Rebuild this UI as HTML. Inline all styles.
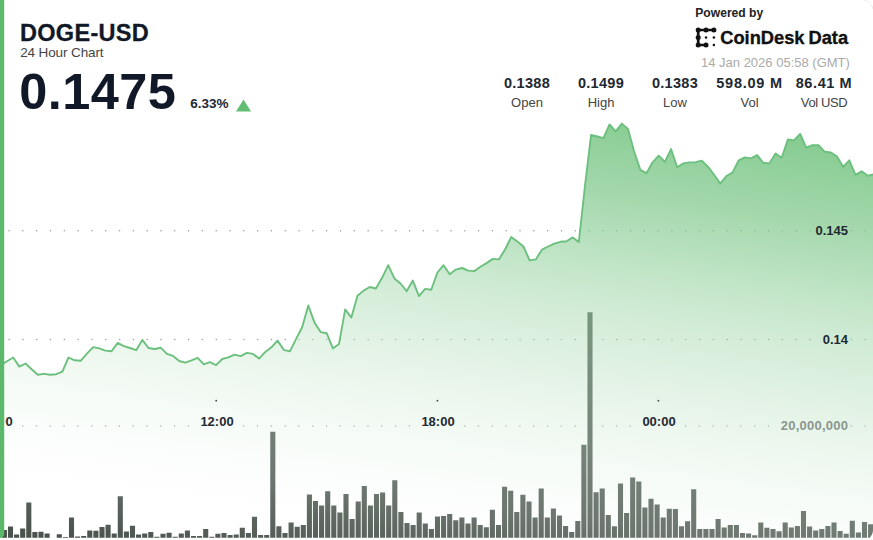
<!DOCTYPE html>
<html><head><meta charset="utf-8"><title>DOGE-USD 24 Hour Chart</title>
<style>
html,body{margin:0;padding:0;background:#fff;}
body{width:873px;height:540px;overflow:hidden;position:relative;font-family:"Liberation Sans",sans-serif;}
#card{position:absolute;left:0;top:0;width:873px;height:540px;overflow:hidden;border-radius:0 9px 9px 0;background:#fff;}
svg{position:absolute;left:0;top:0;}
.t{position:absolute;white-space:nowrap;line-height:1;}
#sym{left:20px;top:21.9px;font-size:23.5px;font-weight:bold;color:#111827;letter-spacing:0.3px;-webkit-text-stroke:0.3px #111827;}
#sub{left:20.2px;top:45.5px;font-size:13.5px;color:#444;letter-spacing:-0.12px;}
#px{left:19.3px;top:66.5px;font-size:50.5px;font-weight:bold;color:#111827;letter-spacing:0.4px;}
#chg{left:190.3px;top:96.8px;font-size:13.5px;font-weight:bold;color:#222831;}
#pow{left:695.3px;top:7.1px;font-size:12.1px;font-weight:bold;color:#222;letter-spacing:0;}
#cd{left:720.2px;top:28.7px;font-size:18.3px;font-weight:bold;color:#111;letter-spacing:0;word-spacing:-1.1px;-webkit-text-stroke:0.35px #111;}
#dt{left:701px;top:56px;font-size:13px;color:#aaa;}
.st{position:absolute;top:76px;width:100px;margin-left:-50px;text-align:center;white-space:nowrap;line-height:1;}
.st b{display:block;font-size:14.5px;color:#222831;letter-spacing:0.3px;}
.st span{display:block;font-size:13px;color:#444;margin-top:5.5px;}
.ax{position:absolute;font-size:13px;font-weight:bold;color:#1f2a33;line-height:1;white-space:nowrap;}
</style></head><body><div id="card">
<svg width="873" height="540" viewBox="0 0 873 540">
<defs>
<linearGradient id="g" gradientUnits="userSpaceOnUse" x1="873" y1="140" x2="801.6" y2="650.0">
<stop offset="0.0" stop-color="#64bc72" stop-opacity="0.8"/>
<stop offset="0.0865" stop-color="#6ec17b" stop-opacity="0.74"/>
<stop offset="0.1731" stop-color="#79c585" stop-opacity="0.68"/>
<stop offset="0.2635" stop-color="#89cd94" stop-opacity="0.61"/>
<stop offset="0.3827" stop-color="#a1d7aa" stop-opacity="0.52"/>
<stop offset="0.4942" stop-color="#b5dfbc" stop-opacity="0.44"/>
<stop offset="0.6096" stop-color="#cbe9d0" stop-opacity="0.36"/>
<stop offset="0.6923" stop-color="#dcf0df" stop-opacity="0.3"/>
<stop offset="0.8077" stop-color="#f0f9f2" stop-opacity="0.22"/>
<stop offset="0.8846" stop-color="#f5fbf6" stop-opacity="0.12"/>
<stop offset="0.9615" stop-color="#ffffff" stop-opacity="0.03"/>
<stop offset="1.0" stop-color="#ffffff" stop-opacity="0"/>

</linearGradient>
<clipPath id="cp"><rect x="-20" y="-20" width="893" height="560" rx="9" ry="9"/></clipPath>
</defs>
<g clip-path="url(#cp)">
<g fill="#949c96"><circle cx="9.06" cy="230.8" r="0.75"/><circle cx="22.87" cy="230.8" r="0.75"/><circle cx="36.68" cy="230.8" r="0.75"/><circle cx="50.49" cy="230.8" r="0.75"/><circle cx="64.3" cy="230.8" r="0.75"/><circle cx="78.11" cy="230.8" r="0.75"/><circle cx="91.92" cy="230.8" r="0.75"/><circle cx="105.73" cy="230.8" r="0.75"/><circle cx="119.54" cy="230.8" r="0.75"/><circle cx="133.35" cy="230.8" r="0.75"/><circle cx="147.16" cy="230.8" r="0.75"/><circle cx="160.97" cy="230.8" r="0.75"/><circle cx="174.78" cy="230.8" r="0.75"/><circle cx="188.59" cy="230.8" r="0.75"/><circle cx="202.4" cy="230.8" r="0.75"/><circle cx="216.21" cy="230.8" r="0.75"/><circle cx="230.02" cy="230.8" r="0.75"/><circle cx="243.83" cy="230.8" r="0.75"/><circle cx="257.64" cy="230.8" r="0.75"/><circle cx="271.45" cy="230.8" r="0.75"/><circle cx="285.26" cy="230.8" r="0.75"/><circle cx="299.07" cy="230.8" r="0.75"/><circle cx="312.88" cy="230.8" r="0.75"/><circle cx="326.69" cy="230.8" r="0.75"/><circle cx="340.5" cy="230.8" r="0.75"/><circle cx="354.31" cy="230.8" r="0.75"/><circle cx="368.12" cy="230.8" r="0.75"/><circle cx="381.93" cy="230.8" r="0.75"/><circle cx="395.74" cy="230.8" r="0.75"/><circle cx="409.55" cy="230.8" r="0.75"/><circle cx="423.36" cy="230.8" r="0.75"/><circle cx="437.17" cy="230.8" r="0.75"/><circle cx="450.98" cy="230.8" r="0.75"/><circle cx="464.79" cy="230.8" r="0.75"/><circle cx="478.6" cy="230.8" r="0.75"/><circle cx="492.41" cy="230.8" r="0.75"/><circle cx="506.22" cy="230.8" r="0.75"/><circle cx="520.03" cy="230.8" r="0.75"/><circle cx="533.84" cy="230.8" r="0.75"/><circle cx="547.65" cy="230.8" r="0.75"/><circle cx="561.46" cy="230.8" r="0.75"/><circle cx="575.27" cy="230.8" r="0.75"/><circle cx="589.08" cy="230.8" r="0.75"/><circle cx="602.89" cy="230.8" r="0.75"/><circle cx="616.7" cy="230.8" r="0.75"/><circle cx="630.51" cy="230.8" r="0.75"/><circle cx="644.32" cy="230.8" r="0.75"/><circle cx="658.13" cy="230.8" r="0.75"/><circle cx="671.94" cy="230.8" r="0.75"/><circle cx="685.75" cy="230.8" r="0.75"/><circle cx="699.56" cy="230.8" r="0.75"/><circle cx="713.37" cy="230.8" r="0.75"/><circle cx="727.18" cy="230.8" r="0.75"/><circle cx="740.99" cy="230.8" r="0.75"/><circle cx="754.8" cy="230.8" r="0.75"/><circle cx="768.61" cy="230.8" r="0.75"/><circle cx="782.42" cy="230.8" r="0.75"/><circle cx="796.23" cy="230.8" r="0.75"/><circle cx="810.04" cy="230.8" r="0.75"/><circle cx="851.47" cy="230.8" r="0.75"/><circle cx="865.28" cy="230.8" r="0.75"/><circle cx="9.1" cy="339.4" r="0.75"/><circle cx="22.91" cy="339.4" r="0.75"/><circle cx="36.72" cy="339.4" r="0.75"/><circle cx="50.53" cy="339.4" r="0.75"/><circle cx="64.34" cy="339.4" r="0.75"/><circle cx="78.15" cy="339.4" r="0.75"/><circle cx="91.96" cy="339.4" r="0.75"/><circle cx="105.77" cy="339.4" r="0.75"/><circle cx="119.58" cy="339.4" r="0.75"/><circle cx="133.39" cy="339.4" r="0.75"/><circle cx="147.2" cy="339.4" r="0.75"/><circle cx="161.01" cy="339.4" r="0.75"/><circle cx="174.82" cy="339.4" r="0.75"/><circle cx="188.63" cy="339.4" r="0.75"/><circle cx="202.44" cy="339.4" r="0.75"/><circle cx="216.25" cy="339.4" r="0.75"/><circle cx="230.06" cy="339.4" r="0.75"/><circle cx="243.87" cy="339.4" r="0.75"/><circle cx="257.68" cy="339.4" r="0.75"/><circle cx="271.49" cy="339.4" r="0.75"/><circle cx="285.3" cy="339.4" r="0.75"/><circle cx="299.11" cy="339.4" r="0.75"/><circle cx="312.92" cy="339.4" r="0.75"/><circle cx="326.73" cy="339.4" r="0.75"/><circle cx="340.54" cy="339.4" r="0.75"/><circle cx="354.35" cy="339.4" r="0.75"/><circle cx="368.16" cy="339.4" r="0.75"/><circle cx="381.97" cy="339.4" r="0.75"/><circle cx="395.78" cy="339.4" r="0.75"/><circle cx="409.59" cy="339.4" r="0.75"/><circle cx="423.4" cy="339.4" r="0.75"/><circle cx="437.21" cy="339.4" r="0.75"/><circle cx="451.02" cy="339.4" r="0.75"/><circle cx="464.83" cy="339.4" r="0.75"/><circle cx="478.64" cy="339.4" r="0.75"/><circle cx="492.45" cy="339.4" r="0.75"/><circle cx="506.26" cy="339.4" r="0.75"/><circle cx="520.07" cy="339.4" r="0.75"/><circle cx="533.88" cy="339.4" r="0.75"/><circle cx="547.69" cy="339.4" r="0.75"/><circle cx="561.5" cy="339.4" r="0.75"/><circle cx="575.31" cy="339.4" r="0.75"/><circle cx="589.12" cy="339.4" r="0.75"/><circle cx="602.93" cy="339.4" r="0.75"/><circle cx="616.74" cy="339.4" r="0.75"/><circle cx="630.55" cy="339.4" r="0.75"/><circle cx="644.36" cy="339.4" r="0.75"/><circle cx="658.17" cy="339.4" r="0.75"/><circle cx="671.98" cy="339.4" r="0.75"/><circle cx="685.79" cy="339.4" r="0.75"/><circle cx="699.6" cy="339.4" r="0.75"/><circle cx="713.41" cy="339.4" r="0.75"/><circle cx="727.22" cy="339.4" r="0.75"/><circle cx="741.03" cy="339.4" r="0.75"/><circle cx="754.84" cy="339.4" r="0.75"/><circle cx="768.65" cy="339.4" r="0.75"/><circle cx="782.46" cy="339.4" r="0.75"/><circle cx="796.27" cy="339.4" r="0.75"/><circle cx="810.08" cy="339.4" r="0.75"/><circle cx="851.51" cy="339.4" r="0.75"/><circle cx="865.32" cy="339.4" r="0.75"/><circle cx="22.71" cy="425.9" r="0.75"/><circle cx="36.52" cy="425.9" r="0.75"/><circle cx="50.33" cy="425.9" r="0.75"/><circle cx="64.14" cy="425.9" r="0.75"/><circle cx="77.95" cy="425.9" r="0.75"/><circle cx="91.76" cy="425.9" r="0.75"/><circle cx="105.57" cy="425.9" r="0.75"/><circle cx="119.38" cy="425.9" r="0.75"/><circle cx="133.19" cy="425.9" r="0.75"/><circle cx="147" cy="425.9" r="0.75"/><circle cx="160.81" cy="425.9" r="0.75"/><circle cx="174.62" cy="425.9" r="0.75"/><circle cx="188.43" cy="425.9" r="0.75"/><circle cx="243.67" cy="425.9" r="0.75"/><circle cx="257.48" cy="425.9" r="0.75"/><circle cx="271.29" cy="425.9" r="0.75"/><circle cx="285.1" cy="425.9" r="0.75"/><circle cx="298.91" cy="425.9" r="0.75"/><circle cx="312.72" cy="425.9" r="0.75"/><circle cx="326.53" cy="425.9" r="0.75"/><circle cx="340.34" cy="425.9" r="0.75"/><circle cx="354.15" cy="425.9" r="0.75"/><circle cx="367.96" cy="425.9" r="0.75"/><circle cx="381.77" cy="425.9" r="0.75"/><circle cx="395.58" cy="425.9" r="0.75"/><circle cx="409.39" cy="425.9" r="0.75"/><circle cx="464.63" cy="425.9" r="0.75"/><circle cx="478.44" cy="425.9" r="0.75"/><circle cx="492.25" cy="425.9" r="0.75"/><circle cx="506.06" cy="425.9" r="0.75"/><circle cx="519.87" cy="425.9" r="0.75"/><circle cx="533.68" cy="425.9" r="0.75"/><circle cx="547.49" cy="425.9" r="0.75"/><circle cx="561.3" cy="425.9" r="0.75"/><circle cx="575.11" cy="425.9" r="0.75"/><circle cx="588.92" cy="425.9" r="0.75"/><circle cx="602.73" cy="425.9" r="0.75"/><circle cx="616.54" cy="425.9" r="0.75"/><circle cx="630.35" cy="425.9" r="0.75"/><circle cx="685.59" cy="425.9" r="0.75"/><circle cx="699.4" cy="425.9" r="0.75"/><circle cx="713.21" cy="425.9" r="0.75"/><circle cx="727.02" cy="425.9" r="0.75"/><circle cx="740.83" cy="425.9" r="0.75"/><circle cx="754.64" cy="425.9" r="0.75"/><circle cx="768.45" cy="425.9" r="0.75"/><circle cx="851.31" cy="425.9" r="0.75"/><circle cx="865.12" cy="425.9" r="0.75"/></g>
<path d="M1.85 537.8 h5.1 v-7.8 h-5.1 ZM7.95 537.8 h5.1 v-11.2 h-5.1 ZM14.05 537.8 h5.1 v-3.4 h-5.1 ZM20.15 537.8 h5.1 v-9.3 h-5.1 ZM26.25 537.8 h5.1 v-35.4 h-5.1 ZM32.35 537.8 h5.1 v-5.8 h-5.1 ZM38.45 537.8 h5.1 v-6 h-5.1 ZM44.55 537.8 h5.1 v-4.3 h-5.1 ZM56.75 537.8 h5.1 v-3.6 h-5.1 ZM62.85 537.8 h5.1 v-0.9 h-5.1 ZM68.95 537.8 h5.1 v-20.4 h-5.1 ZM75.05 537.8 h5.1 v-1.2 h-5.1 ZM81.15 537.8 h5.1 v-1.7 h-5.1 ZM87.25 537.8 h5.1 v-7.3 h-5.1 ZM93.35 537.8 h5.1 v-7 h-5.1 ZM99.45 537.8 h5.1 v-10.9 h-5.1 ZM105.55 537.8 h5.1 v-13 h-5.1 ZM111.65 537.8 h5.1 v-4.3 h-5.1 ZM117.75 537.8 h5.1 v-41.6 h-5.1 ZM123.85 537.8 h5.1 v-6.2 h-5.1 ZM129.95 537.8 h5.1 v-12 h-5.1 ZM136.05 537.8 h5.1 v-3.2 h-5.1 ZM142.15 537.8 h5.1 v-4.4 h-5.1 ZM148.25 537.8 h5.1 v-5.7 h-5.1 ZM154.35 537.8 h5.1 v-1.1 h-5.1 ZM160.45 537.8 h5.1 v-4 h-5.1 ZM166.55 537.8 h5.1 v-5 h-5.1 ZM172.65 537.8 h5.1 v-1.1 h-5.1 ZM178.75 537.8 h5.1 v-4.4 h-5.1 ZM184.85 537.8 h5.1 v-7.2 h-5.1 ZM190.95 537.8 h5.1 v-1.8 h-5.1 ZM197.05 537.8 h5.1 v-1.8 h-5.1 ZM203.15 537.8 h5.1 v-8.8 h-5.1 ZM209.25 537.8 h5.1 v-1.1 h-5.1 ZM215.35 537.8 h5.1 v-4 h-5.1 ZM221.45 537.8 h5.1 v-4.7 h-5.1 ZM227.55 537.8 h5.1 v-2.8 h-5.1 ZM233.65 537.8 h5.1 v-3.4 h-5.1 ZM239.75 537.8 h5.1 v-10.1 h-5.1 ZM245.85 537.8 h5.1 v-4.7 h-5.1 ZM251.95 537.8 h5.1 v-21 h-5.1 ZM258.05 537.8 h5.1 v-2.8 h-5.1 ZM264.15 537.8 h5.1 v-2.8 h-5.1 ZM270.25 537.8 h5.1 v-106 h-5.1 ZM276.35 537.8 h5.1 v-11.6 h-5.1 ZM282.45 537.8 h5.1 v-4.9 h-5.1 ZM288.55 537.8 h5.1 v-15.4 h-5.1 ZM294.65 537.8 h5.1 v-11 h-5.1 ZM300.75 537.8 h5.1 v-12.9 h-5.1 ZM306.85 537.8 h5.1 v-43.3 h-5.1 ZM312.95 537.8 h5.1 v-36.8 h-5.1 ZM319.05 537.8 h5.1 v-32.4 h-5.1 ZM325.15 537.8 h5.1 v-46.5 h-5.1 ZM331.25 537.8 h5.1 v-32.4 h-5.1 ZM337.35 537.8 h5.1 v-25.2 h-5.1 ZM343.45 537.8 h5.1 v-43.7 h-5.1 ZM349.55 537.8 h5.1 v-18.8 h-5.1 ZM355.65 537.8 h5.1 v-36.2 h-5.1 ZM361.75 537.8 h5.1 v-51.9 h-5.1 ZM367.85 537.8 h5.1 v-32.4 h-5.1 ZM373.95 537.8 h5.1 v-43.7 h-5.1 ZM380.05 537.8 h5.1 v-45.4 h-5.1 ZM386.15 537.8 h5.1 v-32.4 h-5.1 ZM392.25 537.8 h5.1 v-57.6 h-5.1 ZM398.35 537.8 h5.1 v-25.8 h-5.1 ZM404.45 537.8 h5.1 v-14.7 h-5.1 ZM410.55 537.8 h5.1 v-12.9 h-5.1 ZM416.65 537.8 h5.1 v-25.3 h-5.1 ZM422.75 537.8 h5.1 v-14.4 h-5.1 ZM428.85 537.8 h5.1 v-8.8 h-5.1 ZM434.95 537.8 h5.1 v-21.4 h-5.1 ZM441.05 537.8 h5.1 v-21.7 h-5.1 ZM447.15 537.8 h5.1 v-23.8 h-5.1 ZM453.25 537.8 h5.1 v-17.5 h-5.1 ZM459.35 537.8 h5.1 v-20.4 h-5.1 ZM465.45 537.8 h5.1 v-14.4 h-5.1 ZM471.55 537.8 h5.1 v-20.2 h-5.1 ZM477.65 537.8 h5.1 v-12.9 h-5.1 ZM483.75 537.8 h5.1 v-10.6 h-5.1 ZM489.85 537.8 h5.1 v-28 h-5.1 ZM495.95 537.8 h5.1 v-12.9 h-5.1 ZM502.05 537.8 h5.1 v-51 h-5.1 ZM508.15 537.8 h5.1 v-47.1 h-5.1 ZM514.25 537.8 h5.1 v-25.8 h-5.1 ZM520.35 537.8 h5.1 v-43.1 h-5.1 ZM526.45 537.8 h5.1 v-36.2 h-5.1 ZM532.55 537.8 h5.1 v-20.2 h-5.1 ZM538.65 537.8 h5.1 v-49.4 h-5.1 ZM544.75 537.8 h5.1 v-20.2 h-5.1 ZM550.85 537.8 h5.1 v-29.2 h-5.1 ZM556.95 537.8 h5.1 v-22.3 h-5.1 ZM563.05 537.8 h5.1 v-11.8 h-5.1 ZM569.15 537.8 h5.1 v-5.7 h-5.1 ZM575.25 537.8 h5.1 v-16.9 h-5.1 ZM581.35 537.8 h5.1 v-93 h-5.1 ZM587.45 537.8 h5.1 v-225.6 h-5.1 ZM593.55 537.8 h5.1 v-45.6 h-5.1 ZM599.65 537.8 h5.1 v-49.4 h-5.1 ZM605.75 537.8 h5.1 v-22.7 h-5.1 ZM611.85 537.8 h5.1 v-11.6 h-5.1 ZM617.95 537.8 h5.1 v-54.2 h-5.1 ZM624.05 537.8 h5.1 v-24.8 h-5.1 ZM630.15 537.8 h5.1 v-60.3 h-5.1 ZM636.25 537.8 h5.1 v-56.3 h-5.1 ZM642.35 537.8 h5.1 v-30.2 h-5.1 ZM648.45 537.8 h5.1 v-39.1 h-5.1 ZM654.55 537.8 h5.1 v-33.3 h-5.1 ZM660.65 537.8 h5.1 v-20.4 h-5.1 ZM666.75 537.8 h5.1 v-29 h-5.1 ZM672.85 537.8 h5.1 v-28.9 h-5.1 ZM678.95 537.8 h5.1 v-11.6 h-5.1 ZM685.05 537.8 h5.1 v-16.6 h-5.1 ZM691.15 537.8 h5.1 v-48.5 h-5.1 ZM697.25 537.8 h5.1 v-8.8 h-5.1 ZM703.35 537.8 h5.1 v-8.8 h-5.1 ZM709.45 537.8 h5.1 v-8.8 h-5.1 ZM715.55 537.8 h5.1 v-18.8 h-5.1 ZM721.65 537.8 h5.1 v-10.3 h-5.1 ZM727.75 537.8 h5.1 v-12.9 h-5.1 ZM733.85 537.8 h5.1 v-12.9 h-5.1 ZM739.95 537.8 h5.1 v-4.7 h-5.1 ZM746.05 537.8 h5.1 v-4.4 h-5.1 ZM752.15 537.8 h5.1 v-2.5 h-5.1 ZM758.25 537.8 h5.1 v-15.4 h-5.1 ZM764.35 537.8 h5.1 v-10.1 h-5.1 ZM770.45 537.8 h5.1 v-8.8 h-5.1 ZM776.55 537.8 h5.1 v-6.6 h-5.1 ZM782.65 537.8 h5.1 v-15.4 h-5.1 ZM788.75 537.8 h5.1 v-10.2 h-5.1 ZM794.85 537.8 h5.1 v-11.9 h-5.1 ZM800.95 537.8 h5.1 v-26.9 h-5.1 ZM807.05 537.8 h5.1 v-11.2 h-5.1 ZM813.15 537.8 h5.1 v-7.2 h-5.1 ZM819.25 537.8 h5.1 v-8.8 h-5.1 ZM825.35 537.8 h5.1 v-11.7 h-5.1 ZM831.45 537.8 h5.1 v-15.2 h-5.1 ZM837.55 537.8 h5.1 v-6.9 h-5.1 ZM843.65 537.8 h5.1 v-4 h-5.1 ZM849.75 537.8 h5.1 v-17.1 h-5.1 ZM855.85 537.8 h5.1 v-5.2 h-5.1 ZM861.95 537.8 h5.1 v-15.9 h-5.1 ZM868.05 537.8 h5.1 v-13.6 h-5.1 Z" fill="#48524b"/>
<path d="M0.9 364.9 L7.05 361.2 L13.2 357.5 L19.35 366.6 L25.49 363.5 L31.64 369.2 L37.79 374.8 L43.94 373.9 L50.09 374.8 L56.23 374.2 L62.38 371.7 L68.53 357.5 L74.68 360.3 L80.83 360.7 L86.97 353.6 L93.12 347.1 L99.27 348.4 L105.42 350.6 L111.57 351.3 L117.71 342.9 L123.86 346.1 L130.01 348 L136.16 350.2 L142.31 339.9 L148.45 348 L154.6 349 L160.75 347.7 L166.9 353.8 L173.05 355.9 L179.19 361 L185.34 362.6 L191.49 360.3 L197.64 357.8 L203.79 364.4 L209.93 362.1 L216.08 365.1 L222.23 359 L228.38 357.3 L234.53 354.6 L240.67 356.1 L246.82 352.9 L252.97 353.9 L259.12 358.6 L265.27 351.9 L271.41 347.3 L277.56 340.6 L283.71 349.8 L289.86 351.4 L296.01 339.1 L302.15 327.3 L308.3 305.5 L314.45 322.4 L320.6 332.1 L326.75 333.3 L332.89 348.4 L339.04 343.9 L345.19 309.4 L351.34 317.6 L357.49 295.8 L363.63 290.6 L369.78 287 L375.93 288.5 L382.08 277.8 L388.23 265.2 L394.37 278.4 L400.52 283.5 L406.67 291.2 L412.82 280.6 L418.97 296.1 L425.11 288.9 L431.26 289.8 L437.41 272.5 L443.56 265.2 L449.71 274.3 L455.85 269.6 L462 268 L468.15 270.6 L474.3 271.1 L480.45 266.8 L486.59 263.1 L492.74 258.9 L498.89 259.4 L505.04 249.5 L511.19 237.1 L517.33 241.5 L523.48 246.5 L529.63 260.4 L535.78 259.4 L541.93 249.7 L548.07 246.5 L554.22 243.7 L560.37 241.8 L566.52 241.2 L572.67 237.4 L578.81 242.1 L584.96 186 L591.11 134.9 L597.26 136.5 L603.41 138.1 L609.55 124.5 L615.7 131.4 L621.85 123.6 L628 128.9 L634.15 151.5 L640.29 169.8 L646.44 173.2 L652.59 162.3 L658.74 155.6 L664.89 161.9 L671.03 149.1 L677.18 167.3 L683.33 163.4 L689.48 162.4 L695.63 162.2 L701.77 160.7 L707.92 166.6 L714.07 174.8 L720.22 183.6 L726.37 176 L732.51 172.6 L738.66 160.3 L744.81 157.4 L750.96 158.4 L757.11 155.2 L763.25 162.8 L769.4 163.5 L775.55 153.6 L781.7 157.8 L787.85 139.5 L793.99 140.4 L800.14 133.9 L806.29 147.7 L812.44 145.2 L818.59 145.2 L824.73 151.8 L830.88 152.5 L837.03 156.5 L843.18 166.9 L849.33 160.3 L855.47 174.8 L861.62 171.3 L867.77 175.7 L873.92 174.2 L880 173.5 L880 545 L0 545 Z" fill="url(#g)"/>
<g fill="#444"><circle cx="216.2" cy="400.7" r="0.9"/><circle cx="437.4" cy="400.7" r="0.9"/><circle cx="658.4" cy="400.7" r="0.9"/></g>
<path d="M0.9 364.9 L7.05 361.2 L13.2 357.5 L19.35 366.6 L25.49 363.5 L31.64 369.2 L37.79 374.8 L43.94 373.9 L50.09 374.8 L56.23 374.2 L62.38 371.7 L68.53 357.5 L74.68 360.3 L80.83 360.7 L86.97 353.6 L93.12 347.1 L99.27 348.4 L105.42 350.6 L111.57 351.3 L117.71 342.9 L123.86 346.1 L130.01 348 L136.16 350.2 L142.31 339.9 L148.45 348 L154.6 349 L160.75 347.7 L166.9 353.8 L173.05 355.9 L179.19 361 L185.34 362.6 L191.49 360.3 L197.64 357.8 L203.79 364.4 L209.93 362.1 L216.08 365.1 L222.23 359 L228.38 357.3 L234.53 354.6 L240.67 356.1 L246.82 352.9 L252.97 353.9 L259.12 358.6 L265.27 351.9 L271.41 347.3 L277.56 340.6 L283.71 349.8 L289.86 351.4 L296.01 339.1 L302.15 327.3 L308.3 305.5 L314.45 322.4 L320.6 332.1 L326.75 333.3 L332.89 348.4 L339.04 343.9 L345.19 309.4 L351.34 317.6 L357.49 295.8 L363.63 290.6 L369.78 287 L375.93 288.5 L382.08 277.8 L388.23 265.2 L394.37 278.4 L400.52 283.5 L406.67 291.2 L412.82 280.6 L418.97 296.1 L425.11 288.9 L431.26 289.8 L437.41 272.5 L443.56 265.2 L449.71 274.3 L455.85 269.6 L462 268 L468.15 270.6 L474.3 271.1 L480.45 266.8 L486.59 263.1 L492.74 258.9 L498.89 259.4 L505.04 249.5 L511.19 237.1 L517.33 241.5 L523.48 246.5 L529.63 260.4 L535.78 259.4 L541.93 249.7 L548.07 246.5 L554.22 243.7 L560.37 241.8 L566.52 241.2 L572.67 237.4 L578.81 242.1 L584.96 186 L591.11 134.9 L597.26 136.5 L603.41 138.1 L609.55 124.5 L615.7 131.4 L621.85 123.6 L628 128.9 L634.15 151.5 L640.29 169.8 L646.44 173.2 L652.59 162.3 L658.74 155.6 L664.89 161.9 L671.03 149.1 L677.18 167.3 L683.33 163.4 L689.48 162.4 L695.63 162.2 L701.77 160.7 L707.92 166.6 L714.07 174.8 L720.22 183.6 L726.37 176 L732.51 172.6 L738.66 160.3 L744.81 157.4 L750.96 158.4 L757.11 155.2 L763.25 162.8 L769.4 163.5 L775.55 153.6 L781.7 157.8 L787.85 139.5 L793.99 140.4 L800.14 133.9 L806.29 147.7 L812.44 145.2 L818.59 145.2 L824.73 151.8 L830.88 152.5 L837.03 156.5 L843.18 166.9 L849.33 160.3 L855.47 174.8 L861.62 171.3 L867.77 175.7 L873.92 174.2 L880 173.5" fill="none" stroke="#6cc07e" stroke-width="1.9" stroke-linejoin="round"/>
</g>
<path d="M864.5 0.5 Q872.5 0.5 872.5 8.5" fill="none" stroke="#e3e3e3" stroke-width="1"/>
<path d="M236 111.5 L251 111.5 L243.5 99.5 Z" fill="#62be72"/>
<g stroke="#111" stroke-width="2.7" fill="#111">
<path d="M698.2 30 H714 M698.2 30 V45 M698.2 45 H706" fill="none"/>
<circle cx="698.2" cy="30" r="2.5" stroke="none"/><circle cx="706" cy="30" r="2.5" stroke="none"/><circle cx="713.9" cy="30" r="2.5" stroke="none"/>
<circle cx="698.2" cy="37.6" r="2.5" stroke="none"/><circle cx="698.2" cy="45" r="2.5" stroke="none"/><circle cx="706" cy="45" r="2.5" stroke="none"/>
<circle cx="706" cy="37.6" r="1.25" stroke="none"/><circle cx="713.9" cy="37.6" r="1.25" stroke="none"/><circle cx="713.9" cy="45" r="1.25" stroke="none"/>
</g>
</svg>
<div class="t" id="sym">DOGE-USD</div>
<div class="t" id="sub">24 Hour Chart</div>
<div class="t" id="px">0.1475</div>
<div class="t" id="chg">6.33%</div>
<div class="t" id="pow">Powered by</div>
<div class="t" id="cd">CoinDesk Data</div>
<div class="t" id="dt">14 Jan 2026 05:58 (GMT)</div>
<div class="st" style="left:527px"><b>0.1388</b><span>Open</span></div>
<div class="st" style="left:601px"><b>0.1499</b><span>High</span></div>
<div class="st" style="left:675px"><b>0.1383</b><span>Low</span></div>
<div class="st" style="left:749.5px"><b style="letter-spacing:0.75px">598.09 M</b><span>Vol</span></div>
<div class="st" style="left:824px"><b style="letter-spacing:0.6px">86.41 M</b><span style="letter-spacing:-0.4px">Vol USD</span></div>
<div style="position:absolute;left:4.6px;top:410px;width:20px;height:24px;overflow:hidden"><div class="ax" style="left:-25.1px;top:5px">06:00</div></div>
<div class="ax" style="left:200.4px;top:415px">12:00</div>
<div class="ax" style="left:421.4px;top:415px">18:00</div>
<div class="ax" style="left:642.4px;top:415px">00:00</div>
<div class="ax" style="right:25px;top:224.3px">0.145</div>
<div class="ax" style="right:25px;top:333px">0.14</div>
<div class="ax" style="right:24.9px;top:419px;color:#8b968f;letter-spacing:0.22px">20,000,000</div>
<svg width="6" height="540" style="z-index:5"><path d="M0 0 H4.2 V534 Q4.2 537 0 538 Z" fill="#5cb96b"/></svg>
</div></body></html>
